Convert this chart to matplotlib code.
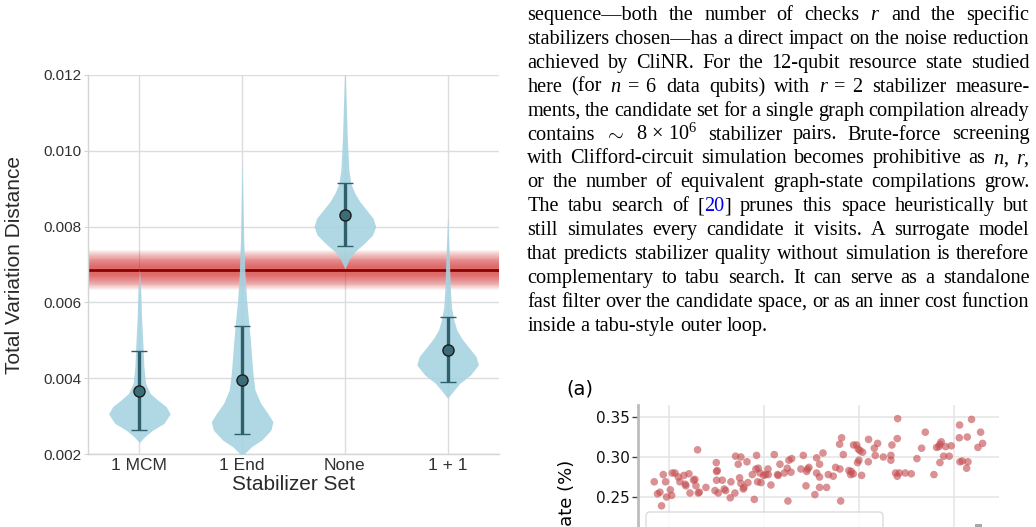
import numpy as np
import matplotlib
matplotlib.use("Agg")
import matplotlib.pyplot as plt
from matplotlib.patches import FancyBboxPatch, Rectangle
from matplotlib.transforms import IdentityTransform

W, H, DPI = 1036, 527, 100

# ---------------- data: violin chart ----------------
categories = ["1 MCM", "1 End", "None", "1 + 1"]
means = [0.00366, 0.00395, 0.00831, 0.00474]
ci_low = [0.00263, 0.00253, 0.00748, 0.00391]
ci_high = [0.00472, 0.00539, 0.00916, 0.00561]
baseline_tvd = 0.00685

# violin outlines (TVD level, half width in category units)
mcm_y = [0.00230, 0.00246, 0.00263, 0.00281, 0.00306, 0.00325, 0.00342, 0.00360,
         0.00387, 0.00430, 0.00474, 0.00562, 0.00625, 0.00690]
mcm_w = [0.0, 0.052, 0.13, 0.24, 0.30, 0.26, 0.18, 0.105, 0.06, 0.044, 0.037, 0.021, 0.014, 0.0]
end_y = [0.00200, 0.00219, 0.00237, 0.00263, 0.00285, 0.00307, 0.00334, 0.00369,
         0.00413, 0.00501, 0.00546, 0.00606, 0.00678, 0.00765, 0.00980]
end_w = [0.02, 0.09, 0.19, 0.28, 0.30, 0.25, 0.18, 0.125, 0.105, 0.08, 0.065, 0.044, 0.027, 0.016, 0.0]
none_y = [0.00688, 0.00712, 0.00734, 0.00756, 0.00778, 0.00800, 0.00822, 0.00844,
          0.00866, 0.00888, 0.00914, 0.00949, 0.01037, 0.01126, 0.01200]
none_w = [0.0, 0.039, 0.097, 0.19, 0.27, 0.30, 0.275, 0.21, 0.145, 0.097, 0.058, 0.039, 0.023, 0.013, 0.004]
pp_y = [0.00347, 0.00364, 0.00387, 0.00408, 0.00435, 0.00457, 0.00483, 0.00505,
        0.00527, 0.00554, 0.00589, 0.00633, 0.00721, 0.00830]
pp_w = [0.0, 0.049, 0.12, 0.22, 0.30, 0.277, 0.20, 0.137, 0.089, 0.06, 0.037, 0.027, 0.016, 0.0]
violin_y = [mcm_y, end_y, none_y, pp_y]
violin_w = [mcm_w, end_w, none_w, pp_w]
y_ticks = [0.002, 0.004, 0.006, 0.008, 0.010, 0.012]

# ---------------- data: partial scatter panel (a) ----------------
scatter_x = [0.842, 0.877, 0.902, 0.919, 0.937, 0.961, 0.972, 1.011, 1.025, 1.032,
             1.060, 1.095, 1.112, 1.154, 1.175, 1.168, 1.207, 1.218, 1.256, 1.270,
             1.281, 1.298, 1.305, 1.316, 1.386, 1.481, 1.495, 1.498, 1.505, 1.498,
             1.516, 1.558, 1.579, 1.593, 1.642, 1.649, 1.698, 1.691, 1.726, 1.754,
             1.740, 1.754, 1.779, 1.786, 1.818, 1.828, 1.874, 1.895, 1.912, 1.919,
             1.930, 1.937, 1.965, 1.954, 1.993, 2.014, 2.042, 2.039, 2.070, 2.105,
             2.140, 2.147, 2.165, 2.211, 2.242, 2.249, 2.260, 2.281, 2.288, 2.386,
             2.411, 2.439, 2.456, 2.470, 2.446, 2.533, 2.551, 2.551, 2.582, 2.582,
             2.582, 2.618, 2.656, 2.674, 2.726, 2.751, 2.796, 2.804, 2.793, 2.814,
             2.832, 2.891, 2.909, 2.937, 2.916, 2.940, 2.972, 2.989, 3.007, 2.996,
             2.982, 3.025, 3.035, 3.095, 3.098, 3.158, 3.168, 3.193, 3.253, 3.333,
             3.333, 3.344, 3.382, 3.400, 3.404, 3.400, 3.421, 3.484, 3.547, 3.607,
             3.656, 3.695, 3.786, 3.814, 3.839, 3.849, 3.863, 3.849, 3.888, 3.909,
             3.947, 3.968, 4.056, 4.053, 4.060, 4.084, 4.130, 4.137, 4.144, 4.182,
             4.249, 4.277, 4.298]
scatter_y = [0.269, 0.254, 0.256, 0.239, 0.278, 0.269, 0.250, 0.259, 0.252, 0.280,
             0.280, 0.275, 0.269, 0.277, 0.264, 0.266, 0.279, 0.255, 0.271, 0.272,
             0.264, 0.309, 0.255, 0.256, 0.262, 0.258, 0.293, 0.282, 0.283, 0.271,
             0.255, 0.271, 0.260, 0.258, 0.249, 0.269, 0.301, 0.255, 0.291, 0.300,
             0.274, 0.267, 0.260, 0.262, 0.294, 0.268, 0.278, 0.247, 0.285, 0.302,
             0.269, 0.286, 0.268, 0.280, 0.277, 0.278, 0.278, 0.285, 0.265, 0.303,
             0.278, 0.277, 0.291, 0.280, 0.286, 0.245, 0.296, 0.281, 0.298, 0.285,
             0.302, 0.264, 0.285, 0.287, 0.282, 0.253, 0.299, 0.280, 0.291, 0.275,
             0.262, 0.305, 0.262, 0.278, 0.276, 0.287, 0.285, 0.245, 0.316, 0.324,
             0.303, 0.283, 0.278, 0.279, 0.282, 0.315, 0.315, 0.310, 0.308, 0.296,
             0.293, 0.277, 0.306, 0.294, 0.322, 0.311, 0.302, 0.317, 0.300, 0.302,
             0.296, 0.315, 0.280, 0.323, 0.348, 0.276, 0.280, 0.280, 0.279, 0.298,
             0.311, 0.331, 0.278, 0.312, 0.313, 0.316, 0.319, 0.293, 0.301, 0.313,
             0.301, 0.314, 0.340, 0.324, 0.294, 0.295, 0.286, 0.325, 0.294, 0.347,
             0.312, 0.331, 0.317]
scatter_yticks = [0.25, 0.30, 0.35]

# ---------------- paragraph text ----------------
paragraph_lines = [
    "sequence\u2014both the number of checks $r$ and the specific",
    "stabilizers chosen\u2014has a direct impact on the noise reduction",
    "achieved by CliNR. For the 12-qubit resource state studied",
    r"here (for $n\;=\;6$ data qubits) with $r\;=\;2$ stabilizer measure-",
    "ments, the candidate set for a single graph compilation already",
    r"contains $\sim$ $8\,\times\,10^6$ stabilizer pairs. Brute-force screening",
    "with Clifford-circuit simulation becomes prohibitive as $n$, $r$,",
    "or the number of equivalent graph-state compilations grow.",
    "The tabu search of [20] prunes this space heuristically but",
    "still simulates every candidate it visits. A surrogate model",
    "that predicts stabilizer quality without simulation is therefore",
    "complementary to tabu search. It can serve as a standalone",
    "fast filter over the candidate space, or as an inner cost function",
    "inside a tabu-style outer loop.",
]
citation = "20"

plt.rcParams["mathtext.fontset"] = "custom"
plt.rcParams["mathtext.rm"] = "Liberation Serif"
plt.rcParams["mathtext.it"] = "Liberation Serif:italic"
plt.rcParams["mathtext.bf"] = "Liberation Serif:bold"

fig = plt.figure(figsize=(W / DPI, H / DPI), dpi=DPI)
fig.patch.set_facecolor("white")

# ================= violin chart =================
SANS = "Liberation Sans"
ax = fig.add_axes([88 / W, (H - 454) / H, 411 / W, 379 / H])
ax.set_xlim(-0.5, 3.5)
ax.set_ylim(0.002, 0.012)
ax.set_axisbelow(True)
ax.grid(True, color="#dcdcdc", lw=1.0)
for s in ["top", "right"]:
    ax.spines[s].set_visible(False)
for s in ["left", "bottom"]:
    ax.spines[s].set_color("#d4d4d4")
    ax.spines[s].set_linewidth(1.0)

# baseline band (soft gradient) and line
for hw in np.linspace(0.00012, 0.00052, 18):
    ax.axhspan(baseline_tvd - hw, baseline_tvd + hw, color="#d62728", alpha=0.058, lw=0, zorder=1)
ax.axhline(baseline_tvd, color="#8b0000", lw=2.0, zorder=2)

for i, (vy, vw) in enumerate(zip(violin_y, violin_w)):
    vy = np.array(vy)
    vw = np.array(vw)
    ax.fill_betweenx(vy, i - vw, i + vw, color="#a6d4e1", alpha=0.9, lw=0, zorder=3)

xpos = np.arange(len(categories))
m = np.array(means)
ax.errorbar(xpos, m, yerr=[m - np.array(ci_low), np.array(ci_high) - m], fmt="o",
            color="#2f5f6b", ecolor="#2f5f6b", elinewidth=2.4, capsize=5.5, capthick=2.2,
            markersize=8, markerfacecolor="#3b6d79", markeredgecolor="#1c1c1c",
            markeredgewidth=1.0, zorder=5)

ax.set_xticks(xpos)
ax.set_xticklabels(categories, fontsize=12.5, family=SANS, color="#303030")
ax.set_yticks(y_ticks)
ax.set_yticklabels([f"{v:.3f}" for v in y_ticks], fontsize=11, family=SANS, color="#303030")
ax.tick_params(axis="x", length=0, pad=3)
ax.tick_params(axis="y", length=3, color="#d4d4d4", pad=2)
ax.set_xlabel("Stabilizer Set", fontsize=15, family=SANS, color="#2a2a2a")
ax.xaxis.label.set_va("center")
ax.xaxis.set_label_coords(0.5, (454 - 485) / 379)
ax.set_ylabel("Total Variation Distance", fontsize=15, family=SANS, color="#2a2a2a")
ax.yaxis.label.set_va("center")
ax.yaxis.set_label_coords((15 - 88) / 411, 0.5)

# ================= partial scatter panel =================
ax2 = fig.add_axes([638.3 / W, (H - 627) / H, 361 / W, 222 / H])
ax2.set_xlim(0.674, 4.474)
ax2.set_ylim(0.0875, 0.365)
ax2.set_axisbelow(True)
ax2.grid(True, color="#e6e6e6", lw=1.2)
ax2.scatter(scatter_x, scatter_y, s=30, color="#c44e52", alpha=0.62, edgecolors="none", zorder=3)
for s in ["top", "right", "bottom"]:
    ax2.spines[s].set_visible(False)
ax2.spines["left"].set_color("#bdbdbd")
ax2.spines["left"].set_linewidth(2.0)
ax2.set_xticks([1, 2, 3, 4])
ax2.tick_params(axis="x", length=0, labelbottom=False)
ax2.set_yticks(scatter_yticks)
ax2.set_yticklabels([f"{v:.2f}" for v in scatter_yticks], fontsize=11, family="DejaVu Sans", color="#111111")
ax2.tick_params(axis="y", length=4, width=1, color="#444444", pad=2)

fig.text(580 / W, 1 - 389 / H, "(a)", fontsize=14, family="DejaVu Sans", ha="center", va="center")
fig.text(567 / W, 1 - 460 / H, "Logical error rate (%)", fontsize=13, family="DejaVu Sans",
         rotation=90, ha="center", va="top")

box = FancyBboxPatch((646, -40), 237, 55, boxstyle="round,pad=0,rounding_size=4",
                     transform=IdentityTransform(), fc="white", ec="#d5d5d5", lw=1.0, alpha=0.85)
fig.add_artist(box)
fig.add_artist(Rectangle((975, 0), 7, 3.5, transform=IdentityTransform(), fc="#a8a8a8", ec="none"))

# ================= justified paragraph =================
SERIF = "Liberation Serif"
FS = 14.6
TEXT_L, TEXT_R = 527.3, 1029.3
BASE0, LEAD = 20.0, 23.9
renderer = fig.canvas.get_renderer()
space_px = 0.25 * FS * DPI / 72.0

for li, line in enumerate(paragraph_lines):
    yb = BASE0 + li * LEAD
    words = line.split(" ")
    word_objs = []
    widths = []
    for w in words:
        if w == "[" + citation + "]":
            segs = [("[", "black"), (citation, "#0000ee"), ("]", "black")]
        else:
            segs = [(w, "black")]
        objs = []
        total = 0.0
        for s, c in segs:
            t = fig.text(0, 1 - yb / H, s, fontsize=FS, family=SERIF, color=c,
                         ha="left", va="baseline")
            wd = t.get_window_extent(renderer).width
            objs.append((t, wd))
            total += wd
        word_objs.append(objs)
        widths.append(total)
    last = li == len(paragraph_lines) - 1
    if not last and len(words) > 1:
        gap = (TEXT_R - TEXT_L - sum(widths)) / (len(words) - 1)
    else:
        gap = space_px
    x = TEXT_L
    for objs, wsum in zip(word_objs, widths):
        xx = x
        for t, wd in objs:
            t.set_x(xx / W)
            xx += wd
        x += wsum + gap

fig.savefig("out.png", dpi=DPI)
